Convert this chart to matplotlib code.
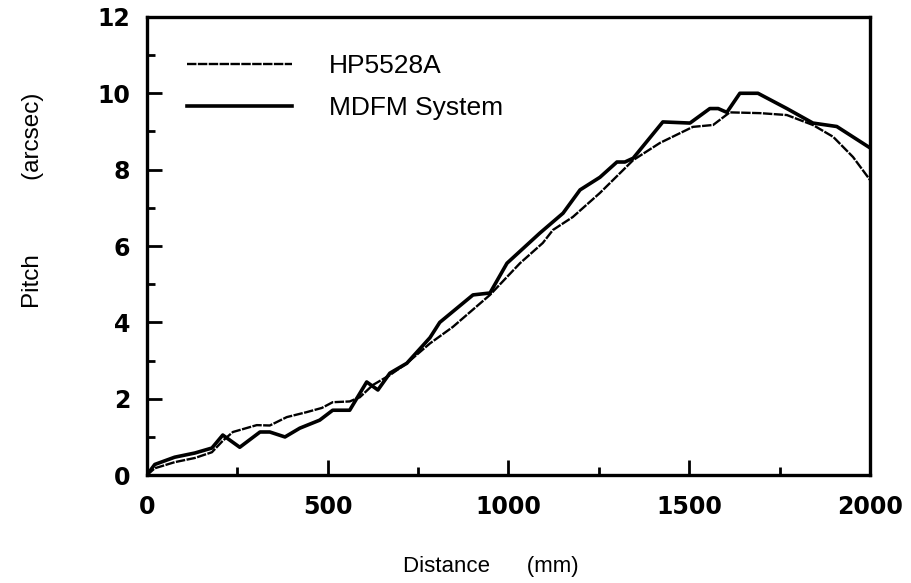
#!/usr/bin/env python3
#
# Pitch error vs. distance, HP5528A interferometer vs. MDFM system
#

import numpy as np
import matplotlib
matplotlib.use('Agg')
import matplotlib.pyplot as plt
from matplotlib.ticker import MultipleLocator

# HP5528A (smooth reference curve)
hp_x = [0, 22, 77, 133, 180, 210, 238, 304, 340, 387, 442, 484, 514, 561,
        589, 625, 672, 719, 783, 846, 949, 1032, 1095, 1123, 1178, 1253,
        1345, 1419, 1510, 1566, 1612, 1696, 1770, 1842, 1898, 1953, 2000]
hp_y = [0, 0.18, 0.34, 0.45, 0.6, 0.9, 1.13, 1.31, 1.3, 1.52, 1.65, 1.76,
        1.91, 1.93, 2.04, 2.36, 2.62, 2.93, 3.45, 3.88, 4.72, 5.55, 6.08,
        6.42, 6.76, 7.39, 8.25, 8.7, 9.12, 9.17, 9.5, 9.48, 9.43, 9.17,
        8.86, 8.33, 7.73]

# MDFM system (jagged curve)
mdfm_x = [0, 22, 77, 133, 180, 210, 257, 313, 340, 382, 423, 478, 514, 561,
          608, 639, 672, 719, 783, 810, 902, 949, 996, 1087, 1151, 1198,
          1253, 1300, 1322, 1345, 1427, 1502, 1557, 1580, 1604, 1640, 1690,
          1770, 1842, 1908, 2000]
mdfm_y = [0, 0.28, 0.47, 0.58, 0.71, 1.05, 0.73, 1.13, 1.13, 1.0, 1.23,
          1.44, 1.70, 1.70, 2.44, 2.23, 2.67, 2.93, 3.6, 4.0, 4.72, 4.77,
          5.55, 6.34, 6.86, 7.47, 7.8, 8.2, 8.2, 8.3, 9.25, 9.22, 9.6, 9.6,
          9.5, 10.0, 10.0, 9.6, 9.22, 9.13, 8.57]

plt.rcParams['font.family'] = ['Liberation Sans', 'DejaVu Sans']

fig = plt.figure(figsize=(9.12, 5.83), dpi=100)
ax = fig.add_axes([0.161, 0.185, 0.793, 0.786])

ax.plot(hp_x, hp_y, color='black', linewidth=1.7,
        linestyle=(0, (4.0, 0.6)), label='HP5528A')
ax.plot(mdfm_x, mdfm_y, color='black', linewidth=2.6,
        label='MDFM System')

ax.set_xlim(0, 2000)
ax.set_ylim(0, 12)
ax.xaxis.set_major_locator(MultipleLocator(500))
ax.xaxis.set_minor_locator(MultipleLocator(250))
ax.yaxis.set_major_locator(MultipleLocator(2))
ax.yaxis.set_minor_locator(MultipleLocator(1))
ax.tick_params(which='both', direction='in', top=False, right=False, width=2)
ax.tick_params(which='major', length=11)
ax.tick_params(which='minor', length=6)
ax.tick_params(axis='x', which='major', pad=14)
ax.tick_params(axis='y', which='major', pad=12)
for lbl in ax.get_xticklabels() + ax.get_yticklabels():
	lbl.set_family('DejaVu Sans')
	lbl.set_fontweight('bold')
	lbl.set_fontsize(17)
for sp in ax.spines.values():
	sp.set_linewidth(2.4)

ax.set_xlabel('Distance      (mm)', fontsize=16)
ax.set_ylabel('Pitch           (arcsec)', fontsize=17.5)
ax.xaxis.set_label_coords(0.476, -0.176)
ax.yaxis.set_label_coords(-0.142, 0.6)

ax.legend(loc='upper left', bbox_to_anchor=(0.055, 0.918), frameon=False,
          fontsize=19, handlelength=4.0, handletextpad=1.4,
          labelspacing=0.68, borderpad=0, borderaxespad=0)

plt.savefig('out.png', dpi=100)
